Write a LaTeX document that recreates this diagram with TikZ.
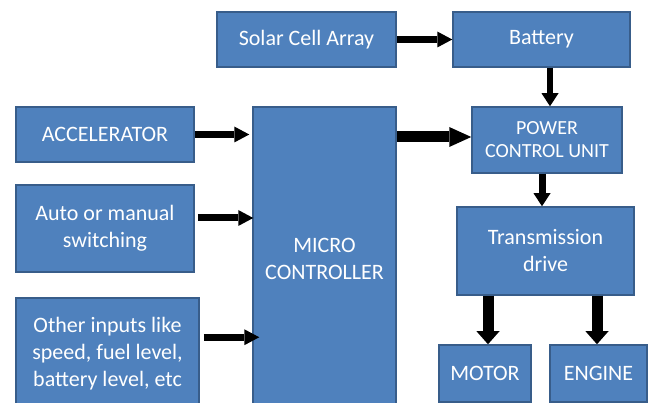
\documentclass[tikz,border=0pt]{standalone}
\usepackage{fontspec}
\setmainfont{Carlito}
\usetikzlibrary{arrows.meta,calc}
\definecolor{boxfill}{HTML}{4F81BD}
\definecolor{boxline}{HTML}{385D8A}
\begin{document}
\begin{tikzpicture}[x=1pt,y=-1pt,
  blk/.style={draw=boxline,fill=boxfill,line width=1.5pt,text=white,align=center,
    font=\fontsize{22}{27}\selectfont,inner sep=0pt},
  arr/.style={line width=7pt,-{Triangle[length=15pt,width=16pt,line width=0pt]}},
  bigarr/.style={line width=11pt,-{Triangle[length=22pt,width=20pt,line width=0pt]}},
  darr/.style={line width=6pt,-{Triangle[length=13pt,width=17pt,line width=0pt]}},
  marr/.style={line width=11pt,-{Triangle[length=13pt,width=23pt,line width=0pt]}}]
\clip (0,0) rectangle (654,403);
\fill[white] (0,0) rectangle (654,403);
% boxes
\node[blk,minimum width=179pt,minimum height=55pt] (solar) at (306.5,39.5) {Solar Cell Array};
\node[blk,minimum width=177pt,minimum height=55pt] (bat) at (541.5,39.5) {Battery};
\node[blk,minimum width=178pt,minimum height=55pt] (acc) at (105,134.5) {ACCELERATOR};
\node[blk,minimum width=178pt,minimum height=87pt] (auto) at (105,228.5) {Auto or manual\\switching};
\node[blk,minimum width=183pt,minimum height=112pt] (oth) at (107.5,354) {Other inputs like\\speed, fuel level,\\battery level, etc};
\node[blk,minimum width=143pt,minimum height=303pt] (mc) at (324.5,258.5) {MICRO\\CONTROLLER};
\node[blk,minimum width=150pt,minimum height=66pt,font=\fontsize{20}{23}\selectfont] (pcu) at (547,140) {POWER\\CONTROL UNIT};
\node[blk,minimum width=177pt,minimum height=88pt] (tr) at (545.5,251) {Transmission\\drive};
\node[blk,minimum width=92pt,minimum height=57pt] (mot) at (485,373.5) {MOTOR};
\node[blk,minimum width=97pt,minimum height=57pt] (eng) at (598.5,373.5) {ENGINE};
% connectors
\draw[arr] (solar.east) -- (bat.west);
\coordinate (b1) at ([xshift=8.5pt]bat.south);
\draw[darr] (b1) -- (b1 |- pcu.north);
\draw[arr,shorten >=3pt] (acc.east) -- (acc.east -| mc.west);
\coordinate (a1) at ([yshift=10.5pt]auto.east);
\draw[arr,shorten <=3pt,shorten >=-1pt] (a1) -- (a1 -| mc.west);
\coordinate (o1) at ([yshift=-40pt]oth.north east);
\draw[arr,shorten <=4pt,shorten >=-7pt] (o1) -- (o1 -| mc.west);
\coordinate (p1) at ([yshift=3pt]pcu.west);
\draw[bigarr] (p1 -| mc.east) -- (p1);
\coordinate (p2) at ([xshift=-5pt]pcu.south);
\draw[darr,line width=7pt] (p2) -- (p2 |- tr.north);
\coordinate (t1) at ([xshift=3pt]mot.north);
\draw[marr] (t1 |- tr.south) -- (t1);
\coordinate (t2) at ([xshift=-1.5pt]eng.north);
\draw[marr] (t2 |- tr.south) -- (t2);
\end{tikzpicture}
\end{document}
